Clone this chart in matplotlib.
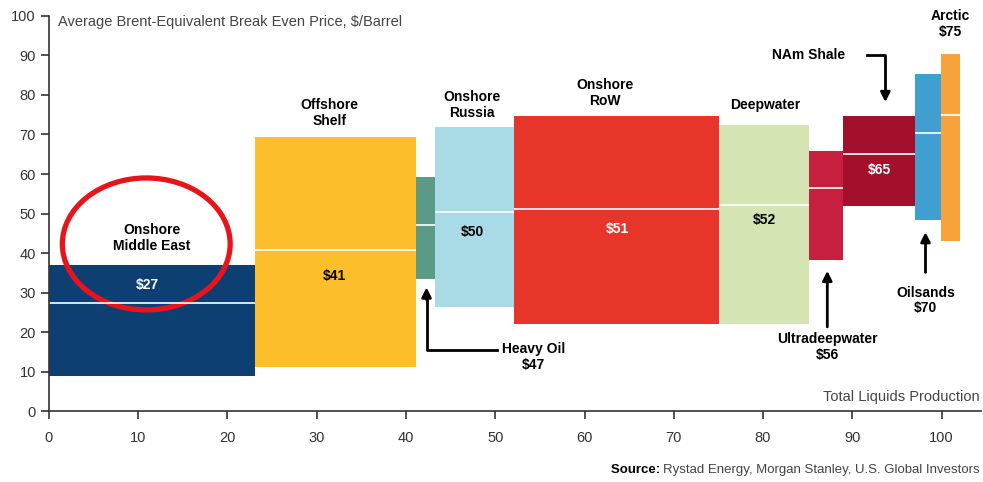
import numpy as np
import matplotlib.pyplot as plt
from matplotlib.patches import Ellipse

plt.rcParams['font.family'] = ['Liberation Sans', 'DejaVu Sans']

# Datos: segmentos de producción (eje x acumulado) y rangos de precio
names   = ['Onshore Middle East', 'Offshore Shelf', 'Heavy Oil', 'Onshore Russia',
           'Onshore RoW', 'Deepwater', 'Ultradeepwater', 'NAm Shale', 'Oilsands', 'Arctic']
x_start = [0.0, 23.1, 41.1, 43.2, 52.1, 75.1, 85.2, 89.0, 97.0, 99.9]
x_end   = [23.1, 41.1, 43.2, 52.1, 75.1, 85.2, 89.0, 97.0, 99.9, 102.1]
low     = [8.9, 11.1, 33.4, 26.3, 22.0, 22.0, 38.2, 51.9, 48.4, 43.0]
high    = [37.0, 69.4, 59.2, 71.9, 74.7, 72.4, 65.8, 74.7, 85.3, 90.4]
average = [27.4, 40.8, 47.0, 50.4, 51.1, 52.2, 56.5, 65.0, 70.4, 74.9]
colors  = ['#0d3f73', '#fdbe2c', '#5b9a86', '#a9dbe7', '#e8352a',
           '#d4e5b3', '#c71f3e', '#a3102c', '#3f9fd0', '#f8a23b']

fig = plt.figure(figsize=(9.83, 4.82), dpi=100)
fig.patch.set_facecolor('white')
ax = fig.add_axes([0.0498, 0.147, 0.948, 0.82])

widths  = np.array(x_end) - np.array(x_start)
heights = np.array(high) - np.array(low)
ax.bar(x_start, heights, widths, bottom=low, align='edge', color=colors, linewidth=0)
ax.hlines(average, x_start, x_end, colors='white', linewidth=1.2)

ax.set_xlim(0, 104.4)
ax.set_ylim(0, 100)
ax.set_xticks(np.arange(0, 101, 10))
ax.set_yticks(np.arange(0, 101, 10))
for s in ['top', 'right']:
    ax.spines[s].set_visible(False)
for s in ['left', 'bottom']:
    ax.spines[s].set_color('#333333')
    ax.spines[s].set_linewidth(1.2)
ax.tick_params(colors='#333333', labelsize=10.5, length=6, width=1.2)
ax.tick_params(axis='x', pad=8)

grey = '#444444'
ax.text(1.0, 98.5, 'Average Brent-Equivalent Break Even Price, $/Barrel',
        fontsize=10.5, color=grey, va='center', ha='left')
ax.text(104.3, 3.6, 'Total Liquids Production', fontsize=10.5, color=grey,
        ha='right', va='center')

# fuente: "Source:" en negrita delante del resto
src = fig.text(0.997, 0.025, 'Rystad Energy, Morgan Stanley, U.S. Global Investors',
               fontsize=9.5, color=grey, ha='right', va='center')
fig.canvas.draw()
bb = src.get_window_extent()
fig.text(bb.x0 / fig.bbox.width, 0.025, 'Source: ', fontsize=9.5, color='black',
         fontweight='bold', ha='right', va='center')

kw = dict(fontsize=10, fontweight='bold', ha='center', va='center', linespacing=1.15)
ax.text(11.5, 43.8, 'Onshore\nMiddle East', color='black', **kw)
ax.text(31.4, 75.4, 'Offshore\nShelf', color='black', **kw)
ax.text(47.4, 77.5, 'Onshore\nRussia', color='black', **kw)
ax.text(62.3, 80.5, 'Onshore\nRoW', color='black', **kw)
ax.text(80.2, 77.5, 'Deepwater', color='black', **kw)
ax.text(85.1, 90.1, 'NAm Shale', color='black', **kw)
ax.text(101.0, 98.0, 'Arctic\n$75', color='black', clip_on=False, **kw)
ax.text(54.3, 13.7, 'Heavy Oil\n$47', color='black', **kw)
ax.text(87.2, 16.2, 'Ultradeepwater\n$56', color='black', **kw)
ax.text(98.2, 28.0, 'Oilsands\n$70', color='black', **kw)

# etiquetas de precio medio dentro de las barras
ax.text(11.0, 31.9, '$27', color='white', **kw)
ax.text(32.0, 34.2, '$41', color='black', **kw)
ax.text(47.4, 45.3, '$50', color='black', **kw)
ax.text(63.7, 46.0, '$51', color='white', **kw)
ax.text(80.2, 48.4, '$52', color='black', **kw)
ax.text(93.0, 61.0, '$65', color='white', **kw)

# flechas
akw = dict(color='black', linewidth=2)
ak = dict(arrowstyle='-|>', color='black', lw=2, mutation_scale=14)
ax.plot([91.6, 93.7, 93.7], [90.1, 90.1, 80.0], **akw)
ax.annotate('', xy=(93.7, 77.5), xytext=(93.7, 81.5), arrowprops=ak)
ax.plot([50.2, 42.3, 42.3], [15.5, 15.5, 28.0], **akw)
ax.annotate('', xy=(42.3, 32.0), xytext=(42.3, 27.5), arrowprops=ak)
ax.annotate('', xy=(87.2, 36.2), xytext=(87.2, 20.6), arrowprops=ak)
ax.annotate('', xy=(98.2, 46.0), xytext=(98.2, 34.4), arrowprops=ak)

# círculo rojo
ax.add_patch(Ellipse((10.9, 42.3), 18.8, 33.4, fill=False, edgecolor='#e8141c', linewidth=3.8))

fig.savefig('out.png', dpi=100, facecolor='white')
